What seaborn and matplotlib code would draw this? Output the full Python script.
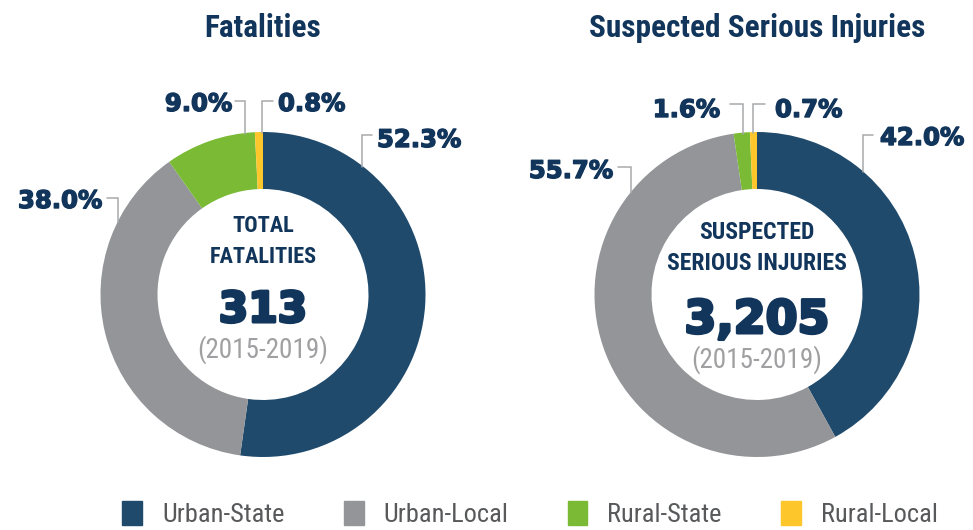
import numpy as np
import matplotlib
matplotlib.use('Agg')
import matplotlib.pyplot as plt
import matplotlib.patheffects as pe
import seaborn as sns

# data
categories = ['Urban-State', 'Urban-Local', 'Rural-State', 'Rural-Local']
fatalities_pct = [52.3, 38.0, 9.0, 0.8]
injuries_pct = [42.0, 55.7, 1.6, 0.7]
fatalities_total = '313'
injuries_total = '3,205'
period = '(2015-2019)'

sns.set_theme(style='white')
colors = sns.color_palette(['#1f4a6c', '#939598', '#7aba34', '#fdc62b'])
NAVY = '#12355b'
COND = ['Roboto Condensed', 'Liberation Sans Narrow', 'Roboto', 'DejaVu Sans']
WIDE = ['DejaVu Sans']

W, H = 973, 530
fig = plt.figure(figsize=(W / 100, H / 100), dpi=100)
ax = fig.add_axes([0, 0, 1, 1])


def Y(py):
    # pixel row -> data y
    return H - py


def heavy(lw):
    # thicken the bold glyphs a little, the source uses a black geometric face
    return [pe.Stroke(linewidth=lw, foreground=NAVY), pe.Normal()]


R, RING = 162.5, 57
CY = 294.5


def donut(cx, values, title, head, head_size, total, total_size, total_base,
          head_base, period_base, labels):
    ax.pie(values, colors=colors, startangle=90, counterclock=False,
           center=(cx, Y(CY)), radius=R, normalize=True,
           wedgeprops=dict(width=RING, edgecolor='none'))
    ax.text(cx, Y(37), title, ha='center', va='baseline', fontsize=22.5,
            fontweight='bold', color=NAVY, family=COND)
    for line, b in zip(head, head_base):
        ax.text(cx, Y(b), line, ha='center', va='baseline', fontsize=head_size,
                fontweight='bold', color=NAVY, family=COND)
    ax.text(cx, Y(total_base), total, ha='center', va='baseline',
            fontsize=total_size, fontweight='bold', color=NAVY, family=WIDE,
            path_effects=heavy(2.2))
    ax.text(cx, Y(period_base), period, ha='center', va='baseline', fontsize=19.5,
            color='#a0a0a2', family=COND)
    # percentage labels with elbow leader lines
    for v, (tx, tb, ha, lx0, ly, lx1) in zip(values, labels):
        ax.text(tx, Y(tb), f'{v:.1f}%', ha=ha, va='baseline', fontsize=17.5,
                fontweight='bold', color=NAVY, family=WIDE,
                path_effects=heavy(1.0))
        yend = CY - np.sqrt(max(R ** 2 - (lx1 - cx) ** 2, 0)) + 1
        ax.plot([lx0, lx1, lx1], [Y(ly), Y(ly), Y(yend)], color='#a7a9ac',
                lw=1.1, solid_joinstyle='miter')


# label layout: text x, baseline, align, leader start x, leader y, leader elbow x
fat_labels = [
    (377, 147, 'left', 372, 135, 362),
    (102, 208, 'right', 107, 198, 118),
    (232, 111, 'right', 235, 101, 245),
    (278, 111, 'left', 273, 101, 262),
]
inj_labels = [
    (880, 145, 'left', 873, 135, 863),
    (613, 178, 'right', 618, 167, 631),
    (720, 117, 'right', 730, 104, 743),
    (775, 117, 'left', 765, 104, 753),
]

donut(263, fatalities_pct, 'Fatalities', ['TOTAL', 'FATALITIES'], 16,
      fatalities_total, 30.5, 322, [232, 263], 358, fat_labels)
donut(757, injuries_pct, 'Suspected Serious Injuries',
      ['SUSPECTED', 'SERIOUS INJURIES'], 17, injuries_total, 33, 333,
      [239, 270], 368, inj_labels)

# pie() resets limits, so fix the pixel-like frame afterwards
ax.set_aspect('auto')
ax.set_xlim(0, W)
ax.set_ylim(0, H)
ax.axis('off')

handles = [plt.Rectangle((0, 0), 1, 1, color=c) for c in colors]
leg = ax.legend(handles, categories, loc='center', bbox_to_anchor=(530, Y(514)),
                bbox_transform=ax.transData, ncol=4, frameon=False,
                handlelength=0.75, handleheight=1.0, handletextpad=0.75,
                columnspacing=2.25, borderaxespad=0, borderpad=0,
                prop={'family': COND, 'size': 19})
for t in leg.get_texts():
    t.set_color('#58595b')

fig.savefig('out.png', dpi=100)
